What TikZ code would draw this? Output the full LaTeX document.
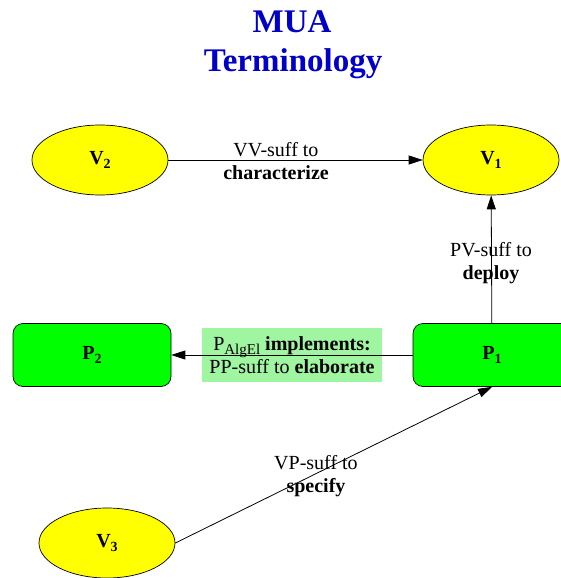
\documentclass[tikz,border=0pt]{standalone}
\usepackage{fontspec}
\setmainfont{Liberation Serif}
\usetikzlibrary{arrows.meta,shapes.geometric}
\definecolor{titleblue}{RGB}{0,0,200}
\definecolor{vyellow}{RGB}{255,255,0}
\definecolor{pgreen}{RGB}{0,255,0}
\definecolor{lblgreen}{RGB}{160,245,160}
\newcommand{\nsub}[1]{\raisebox{-3.5pt}{\fontsize{14}{14}\selectfont #1}}
\begin{document}
\begin{tikzpicture}[x=1pt,y=-1pt,
  vnode/.style={ellipse, draw=black, line width=0.7pt, fill=vyellow, minimum width=136pt, minimum height=70pt, inner sep=0pt, font=\fontsize{20}{23}\selectfont\bfseries},
  pnode/.style={rectangle, rounded corners=10pt, draw=black, line width=0.7pt, fill=pgreen, minimum width=158pt, minimum height=63pt, inner sep=0pt, font=\fontsize{20}{23}\selectfont\bfseries},
  lbl/.style={font=\fontsize{20}{23}\selectfont, align=center, inner sep=0pt},
  titletxt/.style={font=\fontsize{33}{38}\selectfont\bfseries, text=titleblue, anchor=base, inner sep=0pt},
  conn/.style={draw=black, line width=0.8pt, -{Triangle[length=14pt,width=9pt]}}
]
\useasboundingbox (0,0) rectangle (561,578);
\clip (0,0) rectangle (561,578);

% title
\node[titletxt] (t1) at (292,33) {MUA};
\node[titletxt] (t2) at (293,71) {Terminology};

% nodes
\node[vnode] (V2) at (100,160) {V\nsub{2}};
\node[vnode] (V1) at (491,160) {V\nsub{1}};
\node[pnode] (P2) at (92,355) {P\nsub{2}};
\node[pnode] (P1) at (492,355) {P\nsub{1}};
\node[vnode] (V3) at (107,543) {V\nsub{3}};

% labels
\node[lbl] (lVV) at (276,161) {VV-suff to\\\textbf{characterize}};
\node[lbl] (lPV) at (491,263) {PV-suff to\\\textbf{deploy}};
\node[lbl] (lVP) at (316,476) {VP-suff to\\\textbf{specify}};
\node[lbl, fill=lblgreen, inner xsep=7pt, inner ysep=8pt] (lPP) at (292,355) {P\raisebox{-4pt}{\fontsize{15}{15}\selectfont AlgEl} \textbf{implements:}\\PP-suff to \textbf{elaborate}};

% connectors
\draw[conn] (V2) -- (V1);
\draw[conn] (P1) -- (V1);
\draw[conn] (P1) -- (P2);
\draw[conn] (V3.east) -- (P1.south);
\end{tikzpicture}
\end{document}
